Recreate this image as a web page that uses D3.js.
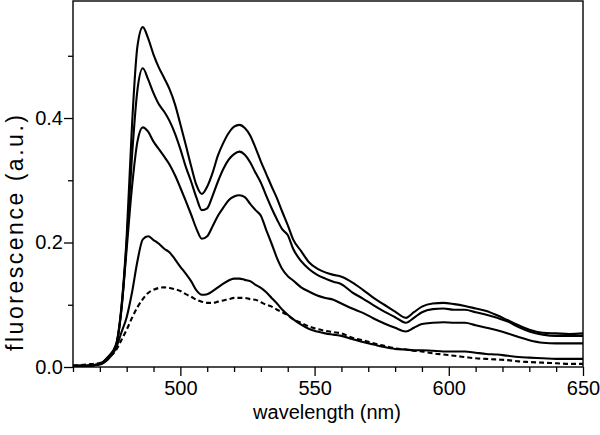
<!DOCTYPE html>
<html>
<head>
<meta charset="utf-8">
<script src="https://cdn.jsdelivr.net/npm/d3@7"></script>
<style>
  html, body { margin: 0; padding: 0; background: #fff; }
  svg { display: block; }
  text { font-family: "Liberation Sans", Arial, Helvetica, sans-serif; fill: #000; }
</style>
</head>
<body>
<svg id="chart" width="600" height="435"></svg>
<script>
// ---- data ----
const wavelengths = [460,465,470,473,476,478,480,482,484,486,488,490,492,494,496,498,500,502,504,506,508,510,512,514,516,518,520,522,524,526,528,530,532,534,536,538,540,542,545,548,551,554,557,560,564,568,572,576,580,584,587,590,594,598,602,606,610,614,618,622,626,630,635,640,645,650];

const series1 = [0.002,0.002,0.005,0.016,0.036,0.095,0.21,0.39,0.515,0.546,0.528,0.502,0.481,0.464,0.446,0.422,0.39,0.357,0.323,0.292,0.278,0.29,0.312,0.34,0.36,0.376,0.386,0.389,0.384,0.372,0.352,0.33,0.31,0.29,0.271,0.249,0.228,0.205,0.186,0.168,0.158,0.152,0.148,0.145,0.136,0.124,0.111,0.1,0.089,0.079,0.088,0.097,0.102,0.103,0.101,0.098,0.094,0.09,0.083,0.075,0.067,0.06,0.055,0.054,0.053,0.054];

const series2 = [0.002,0.002,0.005,0.015,0.034,0.092,0.2,0.34,0.445,0.48,0.462,0.44,0.422,0.41,0.395,0.375,0.35,0.322,0.298,0.272,0.252,0.255,0.275,0.298,0.318,0.333,0.342,0.346,0.341,0.329,0.312,0.296,0.275,0.255,0.237,0.221,0.212,0.19,0.17,0.157,0.148,0.142,0.137,0.133,0.12,0.11,0.099,0.089,0.08,0.071,0.079,0.088,0.093,0.094,0.092,0.092,0.088,0.084,0.079,0.073,0.064,0.057,0.052,0.05,0.05,0.05];

const series3 = [0.002,0.002,0.005,0.015,0.033,0.09,0.19,0.29,0.362,0.385,0.378,0.362,0.35,0.338,0.325,0.308,0.288,0.267,0.245,0.222,0.206,0.21,0.226,0.243,0.256,0.268,0.274,0.276,0.273,0.262,0.252,0.243,0.22,0.198,0.175,0.157,0.146,0.139,0.128,0.121,0.115,0.111,0.108,0.102,0.094,0.087,0.078,0.07,0.063,0.057,0.063,0.069,0.071,0.072,0.071,0.071,0.067,0.063,0.059,0.054,0.048,0.043,0.039,0.038,0.038,0.038];

const series4 = [0.002,0.002,0.004,0.012,0.03,0.055,0.08,0.12,0.17,0.205,0.21,0.204,0.198,0.19,0.184,0.173,0.161,0.15,0.138,0.123,0.116,0.117,0.122,0.128,0.134,0.139,0.142,0.142,0.14,0.138,0.132,0.127,0.12,0.111,0.102,0.092,0.084,0.077,0.068,0.061,0.057,0.054,0.052,0.05,0.045,0.04,0.036,0.032,0.029,0.028,0.027,0.027,0.026,0.025,0.025,0.025,0.023,0.021,0.02,0.018,0.016,0.015,0.014,0.013,0.013,0.013];

const seriesDashed = [0.002,0.004,0.0065,0.014,0.027,0.043,0.06,0.079,0.096,0.109,0.119,0.124,0.127,0.128,0.127,0.125,0.122,0.117,0.113,0.108,0.105,0.103,0.103,0.105,0.107,0.109,0.111,0.111,0.111,0.109,0.108,0.104,0.1,0.097,0.092,0.088,0.083,0.077,0.071,0.065,0.061,0.058,0.056,0.054,0.047,0.043,0.038,0.034,0.03,0.028,0.026,0.025,0.022,0.02,0.018,0.016,0.014,0.013,0.012,0.011,0.009,0.008,0.007,0.006,0.005,0.005];

const xMajorTicks = [500, 550, 600, 650];
const xMinorTicks = [460,470,480,490,510,520,530,540,560,570,580,590,610,620,630,640];
const yMajorTicks = [0.0, 0.2, 0.4];
const yMinorTicks = [0.1, 0.3, 0.5];
const xTitle = "wavelength (nm)";
const yTitle = "fluorescence (a.u.)";

// ---- drawing ----
const svg = d3.select("#chart");
const mLeft = 73, mRight = 583, mTop = 1, mBottom = 367;

const x = d3.scaleLinear().domain([460, 650]).range([mLeft, mRight]);
const y = d3.scaleLinear().domain([0, 0.588]).range([mBottom, mTop]);

const fontSize = 20;

// x axis
const gx = svg.append("g").attr("transform", `translate(0,${mBottom})`);
gx.call(d3.axisBottom(x).tickValues(xMajorTicks).tickSize(9).tickPadding(5).tickFormat(d3.format("d")));
gx.append("g").call(d3.axisBottom(x).tickValues(xMinorTicks).tickSize(5).tickFormat(""));
gx.selectAll(".domain").remove();

// y axis
const gy = svg.append("g").attr("transform", `translate(${mLeft},0)`);
gy.call(d3.axisLeft(y).tickValues(yMajorTicks).tickSize(9).tickPadding(1).tickFormat(d3.format(".1f")));
gy.append("g").call(d3.axisLeft(y).tickValues(yMinorTicks).tickSize(5).tickFormat(""));
gy.selectAll(".domain").remove();

svg.selectAll(".tick line").attr("stroke", "#000").attr("stroke-width", 1.3);
svg.selectAll(".tick text").style("font-size", fontSize + "px").attr("fill", "#000");

// frame
svg.append("rect")
  .attr("x", mLeft).attr("y", mTop)
  .attr("width", mRight - mLeft).attr("height", mBottom - mTop)
  .attr("fill", "none").attr("stroke", "#000").attr("stroke-width", 1.4);

// lines
const line = d3.line()
  .x((d, i) => x(wavelengths[i]))
  .y(d => y(d))
  .curve(d3.curveMonotoneX);

const plot = svg.append("g");
[series1, series2, series3, series4].forEach(s => {
  plot.append("path").datum(s).attr("d", line)
    .attr("fill", "none").attr("stroke", "#000").attr("stroke-width", 2.1)
    .attr("stroke-linejoin", "round");
});
plot.append("path").datum(seriesDashed).attr("d", line)
  .attr("fill", "none").attr("stroke", "#000").attr("stroke-width", 2.1)
  .attr("stroke-dasharray", "5,3");

// titles
svg.append("text")
  .attr("x", 327).attr("y", 419)
  .attr("text-anchor", "middle")
  .style("font-size", fontSize + "px")
  .text(xTitle);

svg.append("text")
  .attr("transform", `translate(23,233) rotate(-90)`)
  .attr("text-anchor", "middle")
  .attr("textLength", 236)
  .attr("lengthAdjust", "spacing")
  .style("font-size", "23px")
  .text(yTitle);
</script>
</body>
</html>
